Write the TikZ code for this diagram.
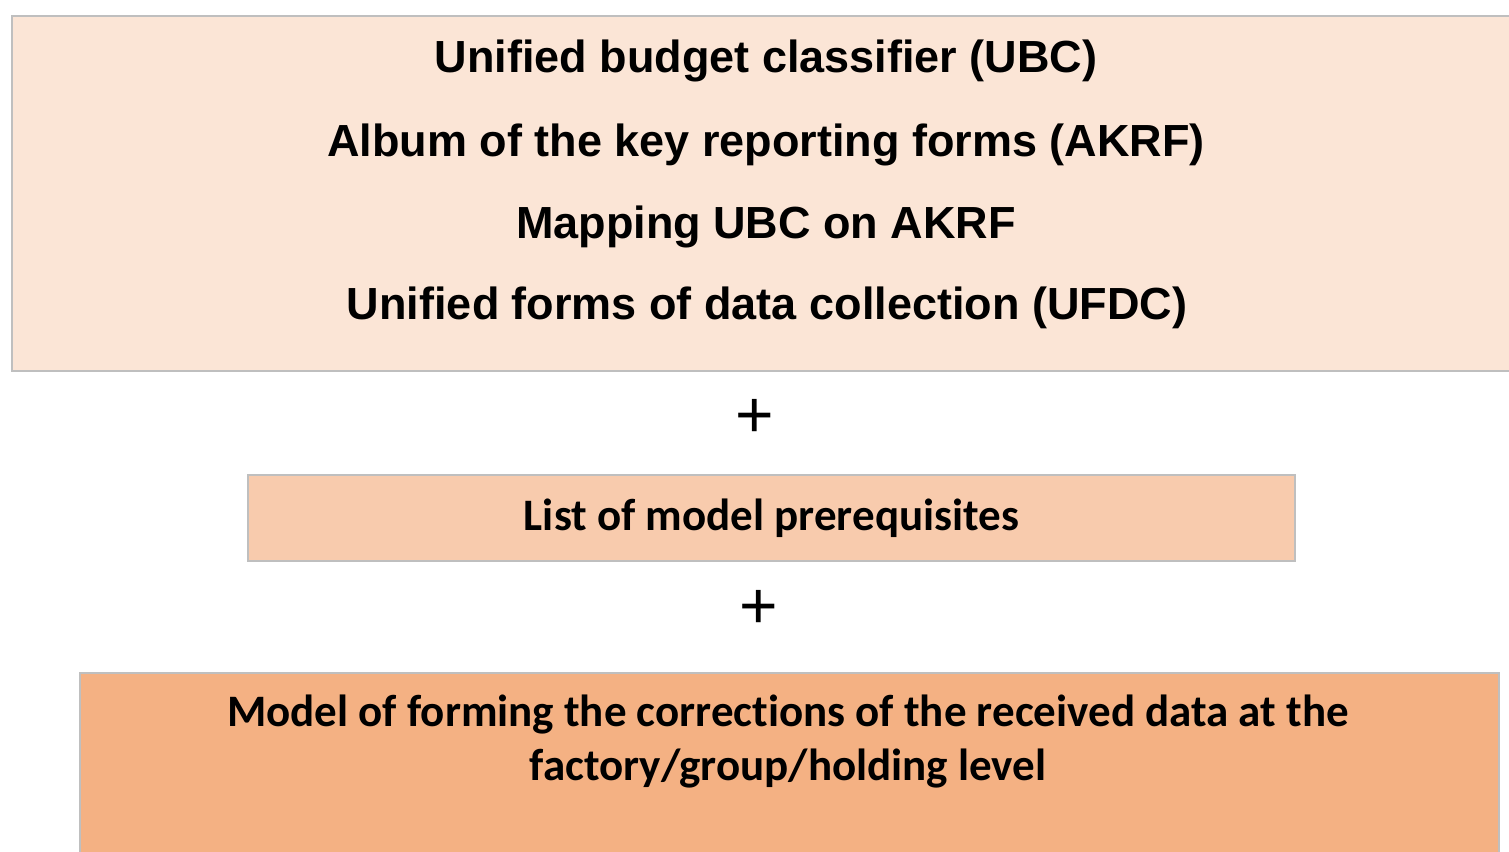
\documentclass[tikz,border=0pt]{standalone}
\usepackage{fontspec}
\setmainfont{Liberation Sans}
\newfontfamily\calibri[Ligatures=NoCommon]{Carlito}
\usetikzlibrary{positioning}
\definecolor{peachlight}{HTML}{FBE5D6}
\definecolor{peachmid}{HTML}{F8CBAD}
\definecolor{peachdark}{HTML}{F4B183}
\definecolor{boxline}{HTML}{BFBFBF}
\begin{document}
\begin{tikzpicture}[x=1pt,y=-1pt]
\tikzstyle{every node}+=[inner sep=0pt]
\tikzstyle{panel}=[draw=boxline, line width=2pt]
\tikzstyle{arialtxt}=[anchor=base, font=\fontsize{45}{54}\selectfont\bfseries]
\tikzstyle{calibritxt}=[font=\calibri\fontsize{45}{54}\selectfont\bfseries]
\tikzstyle{plussign}=[font=\fontsize{66}{68}\selectfont]
\useasboundingbox (0,0) rectangle (1509,851);
\clip (0,0) rectangle (1509,851);
% top block
\node (ubcbox) [panel, fill=peachlight, minimum width=1510pt, minimum height=355pt] at (767,193.5) {};
\node (ubc) [arialtxt] at (766,73) {Unified budget classifier (UBC)};
\node (akrf) [arialtxt] at (766,156) {Album of the key reporting forms (AKRF)};
\node (mapping) [arialtxt] at (766,238) {Mapping UBC on AKRF};
\node (ufdc) [arialtxt] at (767,319) {Unified forms of data collection (UFDC)};
\node (plusa) [plussign] at (755,418) {+};
% middle block
\node (prereq) [panel, fill=peachmid, minimum width=1047pt, minimum height=86pt, calibritxt] at (771.5,518) {List of model prerequisites};
\node (plusb) [plussign] at (759,609) {+};
% bottom block
\node (modelbox) [panel, fill=peachdark, minimum width=1419pt, minimum height=300pt, anchor=north] at (789.5,672) {};
\node (model) [calibritxt, align=center, anchor=north] at (788,695) {Model of forming the corrections of the received data at the\\factory/group/holding level};
\end{tikzpicture}
\end{document}
